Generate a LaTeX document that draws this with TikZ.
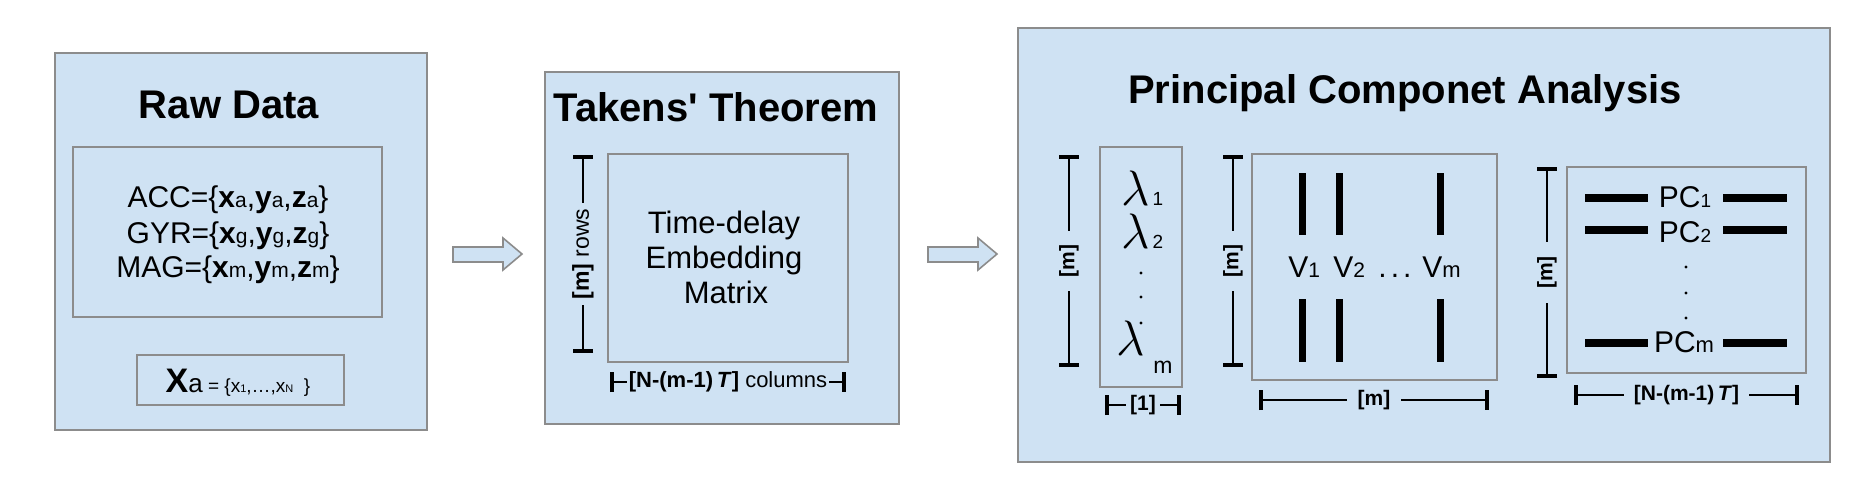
\documentclass[tikz,border=0pt]{standalone}
\usepackage{fontspec}
\setmainfont{Liberation Sans}
\usetikzlibrary{arrows.meta}

\definecolor{paneblue}{HTML}{CFE2F3}
\definecolor{panegray}{HTML}{8C8C8C}

\newcommand{\fsz}[1]{\fontsize{#1}{#1}\selectfont}
\newcommand{\sensor}[2]{{\bfseries #1}{\fsz{10.5}#2}}

\tikzset{
  panel/.style={draw=panegray, line width=1pt, fill=paneblue},
  inbox/.style={draw=panegray, line width=0.7pt},
  title/.style={font=\fsz{20}\bfseries, anchor=base, inner sep=0pt},
  body/.style={font=\fsz{15}, anchor=base, inner sep=0pt},
  lambda/.style={font=\fsz{24}, anchor=base west, inner sep=0pt},
  dimline/.style={line width=0.8pt, {Bar[width=10pt,line width=2.2pt]}-{Bar[width=10pt,line width=2.2pt]}},
  dimlabel/.style={fill=paneblue, inner ysep=0pt, font=\fsz{10.5}},
  vecbar/.style={line width=3.5pt},
  pcbar/.style={line width=4pt},
  blockarrow/.style={draw=panegray, fill=paneblue, line width=0.8pt, line join=miter},
}

\begin{document}
\begin{tikzpicture}[x=0.5pt,y=-0.5pt]
    \useasboundingbox (0,0) rectangle (1856,500);

    % raw data
    \draw[panel] (55,53) rectangle (427,430);
    \node[title] (rawtitle) at (229,118) {Raw Data};
    \draw[inbox] (73,147) rectangle (382,317);
    \node[body] (acc) at (228,207) {ACC=\{\sensor{x}{a},\sensor{y}{a},\sensor{z}{a}\}};
    \node[body] (gyr) at (228,243) {GYR=\{\sensor{x}{g},\sensor{y}{g},\sensor{z}{g}\}};
    \node[body] (mag) at (228,277) {MAG=\{\sensor{x}{m},\sensor{y}{m},\sensor{z}{m}\}};
    \draw[inbox] (137,355) rectangle (344,405);
    \node[anchor=base, inner sep=0pt] (xa) at (238,392)
        {{\fsz{17}\bfseries X}{\fsz{13}a}{\fsz{9.5} = \{x{\fsz{5.5}1},\dots,x{\fsz{5.5}N}\ \ \}}};

    % arrow 1
    \draw[blockarrow] (453,247) -- (503,247) -- (503,238) -- (522,254)
        -- (503,270) -- (503,262) -- (453,262) -- cycle;

    % takens
    \draw[panel] (545,72) rectangle (899,424);
    \node[title] (takenstitle) at (716,121) {Takens\textquotesingle{} Theorem};
    \draw[inbox] (608,154) rectangle (848,362);
    \node[body, font=\fsz{15.5}] (mat1) at (724,233) {Time-delay};
    \node[body, font=\fsz{15.5}] (mat2) at (724,268) {Embedding};
    \node[body, font=\fsz{15.5}] (mat3) at (726,303) {Matrix};
    \coordinate (rowsT) at (583,155);
    \coordinate (rowsB) at (583,353);
    \draw[dimline] (rowsT) -- node[dimlabel, rotate=90, inner xsep=3pt, font=\fsz{11.5}] (rowslbl) {\textbf{[m]} rows} (rowsB);
    \coordinate (colsL) at (610,382);
    \coordinate (colsR) at (846,382);
    \draw[dimline] (colsL) -- node[dimlabel, inner xsep=1pt, font=\fsz{11}] (colslbl) {\textbf{[N-(m-1)\,\textit{T}]} columns} (colsR);

    % arrow 2
    \draw[blockarrow] (928,247) -- (978,247) -- (978,238) -- (997,254)
        -- (978,270) -- (978,262) -- (928,262) -- cycle;

    % pca
    \draw[panel] (1018,28) rectangle (1830,462);
    \node[title] (pcatitle) at (1405,103) {Principal Componet Analysis};

    % eigenvalues
    \coordinate (lamT) at (1069,155);
    \coordinate (lamB) at (1069,367);
    \draw[dimline] (lamT) -- node[dimlabel, rotate=90, inner xsep=7pt] (lamlbl) {\textbf{[m]}} (lamB);
    \draw[inbox] (1100,147) rectangle (1182,387);
    \node[lambda] (lam1) at (1121,205) {$\lambda$};
    \node[anchor=base west, inner sep=0pt, font=\fsz{9.5}] (lam1s) at ([xshift=1pt]lam1.base east) {1};
    \node[lambda] (lam2) at (1121,248) {$\lambda$};
    \node[anchor=base west, inner sep=0pt, font=\fsz{9.5}] (lam2s) at ([xshift=1pt]lam2.base east) {2};
    \fill (1141,273) circle (0.8pt);
    \fill (1141,297) circle (0.8pt);
    \fill (1141,323) circle (0.8pt);
    \node[lambda] (lamm) at (1116,355) {$\lambda$};
    \node[anchor=base west, inner sep=0pt, font=\fsz{11.5}] (lamms) at (1153,373) {m};
    \coordinate (oneL) at (1105,405);
    \coordinate (oneR) at (1181,405);
    \draw[dimline] (oneL) -- node[dimlabel, inner xsep=2pt] (onelbl) {\textbf{[1]}} (oneR);

    % eigenvectors
    \coordinate (vecT) at (1233,155);
    \coordinate (vecB) at (1233,367);
    \draw[dimline] (vecT) -- node[dimlabel, rotate=90, inner xsep=7pt] (veclbl) {\textbf{[m]}} (vecB);
    \draw[inbox] (1252,154) rectangle (1497,380);
    \foreach \x in {1302,1339,1440} {
        \draw[vecbar] (\x,173) -- (\x,235);
        \draw[vecbar] (\x,299) -- (\x,362);
    }
    \node[body, anchor=base west] (v1) at (1288,277) {V{\fsz{10.5}1}};
    \node[body, anchor=base west] (v2) at (1333,277) {V{\fsz{10.5}2}};
    \node[body, anchor=base west] (vdots) at (1378,277) {.\hspace{2pt}.\hspace{2pt}.};
    \node[body, anchor=base west] (vm) at (1422,277) {V{\fsz{11}m}};
    \coordinate (vwL) at (1259,400);
    \coordinate (vwR) at (1489,400);
    \draw[dimline] (vwL) -- node[dimlabel, inner xsep=5.5pt] (vwlbl) {\textbf{[m]}} (vwR);

    % principal components
    \coordinate (pcT) at (1547,167);
    \coordinate (pcB) at (1547,378);
    \draw[dimline] (pcT) -- node[dimlabel, rotate=90, inner xsep=7pt] (pclbl) {\textbf{[m]}} (pcB);
    \draw[inbox] (1567,167) rectangle (1806,373);
    \foreach \y in {198,230,343} {
        \draw[pcbar] (1585,\y) -- (1648,\y);
        \draw[pcbar] (1723,\y) -- (1787,\y);
    }
    \node[body] (pc1) at (1685,207) {PC{\fsz{9.5}1}};
    \node[body] (pc2) at (1685,242) {PC{\fsz{9.5}2}};
    \node[body] (pcm) at (1684,352) {PC{\fsz{11}m}};
    \fill (1686,267) circle (0.8pt);
    \fill (1686,293) circle (0.8pt);
    \fill (1686,318) circle (0.8pt);
    \coordinate (pcwL) at (1574,395);
    \coordinate (pcwR) at (1799,395);
    \draw[dimline] (pcwL) -- node[dimlabel, inner xsep=5pt] (pcwlbl) {\textbf{[N-(m-1)\,\textit{T}]}} (pcwR);
\end{tikzpicture}
\end{document}
